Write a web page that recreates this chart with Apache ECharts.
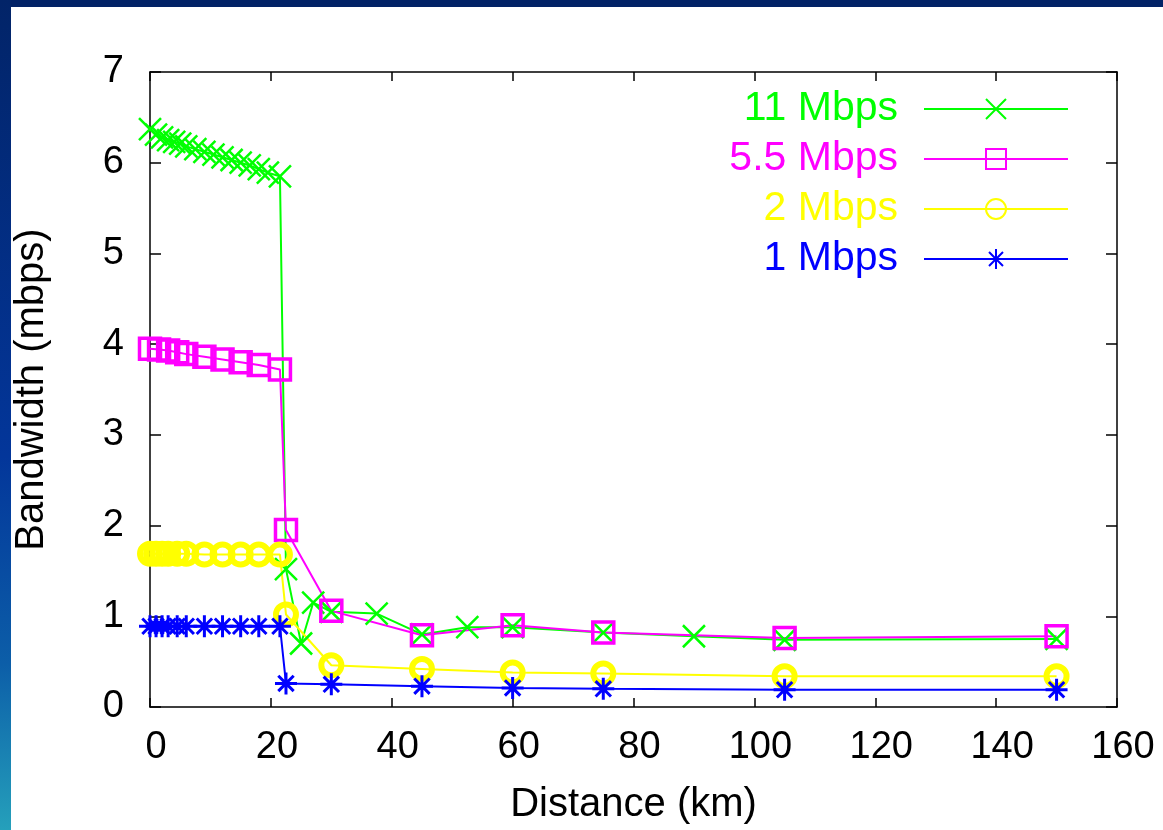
<!DOCTYPE html>
<html>
<head>
<meta charset="utf-8">
<script src="https://cdn.jsdelivr.net/npm/echarts@6/dist/echarts.min.js"></script>
<style>
html,body{margin:0;padding:0;background:#fff;}
#chart{width:1163px;height:830px;}
</style>
</head>
<body>
<div id="chart"></div>
<script>
// ---- data ----
const seriesNames = ['11 Mbps', '5.5 Mbps', '2 Mbps', '1 Mbps'];
const seriesColors = ['#00ff00', '#ff00ff', '#ffff00', '#0000ff'];

const x11 = [0, 1, 2, 3, 4, 5, 6, 7.5, 9, 10.5, 12, 13.5, 15, 16.5, 18, 19.5, 21.5, 22.5, 25, 27, 30, 37.5, 45, 52.5, 60, 75, 90, 105, 150];
const y11 = [6.37, 6.31, 6.28, 6.25, 6.23, 6.21, 6.18, 6.15, 6.12, 6.09, 6.06, 6.03, 6.00, 5.97, 5.93, 5.89, 5.85, 1.52, 0.70, 1.15, 1.05, 1.03, 0.80, 0.88, 0.88, 0.82, 0.78, 0.74, 0.75];

const x55 = [0, 1.5, 3, 4.5, 6, 9, 12, 15, 18, 21.5, 22.5, 30, 45, 60, 75, 105, 150];
const y55 = [3.95, 3.94, 3.93, 3.91, 3.89, 3.86, 3.83, 3.80, 3.77, 3.72, 1.95, 1.06, 0.79, 0.90, 0.82, 0.76, 0.78];

const x2 = [0, 1, 2, 3, 4.5, 6, 9, 12, 15, 18, 21.5, 22.5, 30, 45, 60, 75, 105, 150];
const y2 = [1.69, 1.69, 1.69, 1.69, 1.69, 1.69, 1.68, 1.68, 1.68, 1.68, 1.68, 1.02, 0.46, 0.42, 0.38, 0.37, 0.34, 0.34];

const x1 = [0, 1, 2, 3, 4.5, 6, 9, 12, 15, 18, 21.5, 22.5, 30, 45, 60, 75, 105, 150];
const y1 = [0.89, 0.89, 0.89, 0.89, 0.89, 0.89, 0.89, 0.89, 0.89, 0.89, 0.89, 0.26, 0.25, 0.23, 0.21, 0.20, 0.19, 0.19];

const xTicks = [0, 20, 40, 60, 80, 100, 120, 140, 160];
const yTicks = [0, 1, 2, 3, 4, 5, 6, 7];

const xTitle = 'Distance (km)';
const yTitle = 'Bandwidth (mbps)';
// --------------------------------------

const FONT = '"Liberation Sans", Arial, Helvetica, sans-serif';
const zip = (xs, ys) => xs.map((x, i) => [x, ys[i]]);

const crossPath = 'path://M0,0L10,10M10,0L0,10';
const starPath = 'path://M5,0L5,10M0,5L10,5M1.5,1.5L8.5,8.5M8.5,1.5L1.5,8.5';

const axisLineStyle = { color: '#000', width: 1.5 };

const chart = echarts.init(document.getElementById('chart'));
const option = {
  backgroundColor: '#ffffff',
  animation: false,
  textStyle: { fontFamily: FONT },
  graphic: [
    { type: 'rect', z: 100, shape: { x: 0, y: 0, width: 1163, height: 7 }, style: { fill: '#022266' } },
    { type: 'rect', z: 100, shape: { x: 0, y: 0, width: 11, height: 830 },
      style: { fill: new echarts.graphic.LinearGradient(0, 0, 0, 1, [
        { offset: 0, color: '#022468' },
        { offset: 0.55, color: '#03369a' },
        { offset: 0.8, color: '#0c5ea8' },
        { offset: 1, color: '#25a0bb' }
      ]) } }
  ],
  grid: { left: 150, right: 46, top: 72, bottom: 121, containLabel: false },
  legend: {
    orient: 'vertical',
    right: 89,
    top: 81,
    align: 'right',
    itemWidth: 144,
    itemHeight: 25,
    itemGap: 4,
    selectedMode: false,
    textStyle: { fontSize: 41, fontFamily: FONT, padding: [0, 21, 0, 0], lineHeight: 46 },
    data: seriesNames.map((n, i) => ({ name: n, textStyle: { color: seriesColors[i] } }))
  },
  xAxis: [
    {
      type: 'value', min: 0, max: 160, interval: 20, position: 'bottom',
      name: xTitle, nameLocation: 'middle', nameGap: 78,
      nameTextStyle: { fontSize: 40, color: '#000', fontFamily: FONT },
      axisLine: { show: true, onZero: false, lineStyle: axisLineStyle },
      axisTick: { show: true, inside: true, length: 9, lineStyle: { color: '#000', width: 1.5 } },
      axisLabel: { fontSize: 38, color: '#000', margin: 22, fontFamily: FONT, padding: [0, 0, 0, 12],
        formatter: v => xTicks.includes(v) ? String(v) : '' },
      splitLine: { show: false }
    },
    {
      type: 'value', min: 0, max: 160, interval: 20, position: 'top',
      axisLine: { show: true, onZero: false, lineStyle: axisLineStyle },
      axisTick: { show: true, inside: true, length: 9, lineStyle: { color: '#000', width: 1.5 } },
      axisLabel: { show: false }, splitLine: { show: false }
    }
  ],
  yAxis: [
    {
      type: 'value', min: 0, max: 7, interval: 1, position: 'left',
      name: yTitle, nameLocation: 'middle', nameGap: 98, nameRotate: 90,
      nameTextStyle: { fontSize: 40, color: '#000', fontFamily: FONT },
      axisLine: { show: true, onZero: false, lineStyle: axisLineStyle },
      axisTick: { show: true, inside: true, length: 11, lineStyle: { color: '#000', width: 1.5 } },
      axisLabel: { fontSize: 38, color: '#000', margin: 26, fontFamily: FONT,
        formatter: v => yTicks.includes(v) ? String(v) : '' },
      splitLine: { show: false }
    },
    {
      type: 'value', min: 0, max: 7, interval: 1, position: 'right',
      axisLine: { show: true, onZero: false, lineStyle: axisLineStyle },
      axisTick: { show: true, inside: true, length: 11, lineStyle: { color: '#000', width: 1.5 } },
      axisLabel: { show: false }, splitLine: { show: false }
    }
  ],
  series: [
    {
      name: seriesNames[0], type: 'line', data: zip(x11, y11),
      symbol: crossPath, symbolSize: 22,
      lineStyle: { color: seriesColors[0], width: 2 },
      itemStyle: { color: seriesColors[0], borderColor: seriesColors[0], borderWidth: 2.5 }
    },
    {
      name: seriesNames[1], type: 'line', data: zip(x55, y55),
      symbol: 'rect', symbolSize: 21,
      lineStyle: { color: seriesColors[1], width: 2 },
      itemStyle: { color: 'rgba(255,255,255,0)', borderColor: seriesColors[1], borderWidth: 3.5 }
    },
    {
      name: seriesNames[2], type: 'line', data: zip(x2, y2),
      symbol: 'circle', symbolSize: 20,
      lineStyle: { color: seriesColors[2], width: 2 },
      itemStyle: { color: 'rgba(255,255,255,0)', borderColor: seriesColors[2], borderWidth: 6 }
    },
    {
      name: seriesNames[3], type: 'line', data: zip(x1, y1),
      symbol: starPath, symbolSize: 22,
      lineStyle: { color: seriesColors[3], width: 2 },
      itemStyle: { color: seriesColors[3], borderColor: seriesColors[3], borderWidth: 3 }
    }
  ]
};
chart.setOption(option);
</script>
</body>
</html>
